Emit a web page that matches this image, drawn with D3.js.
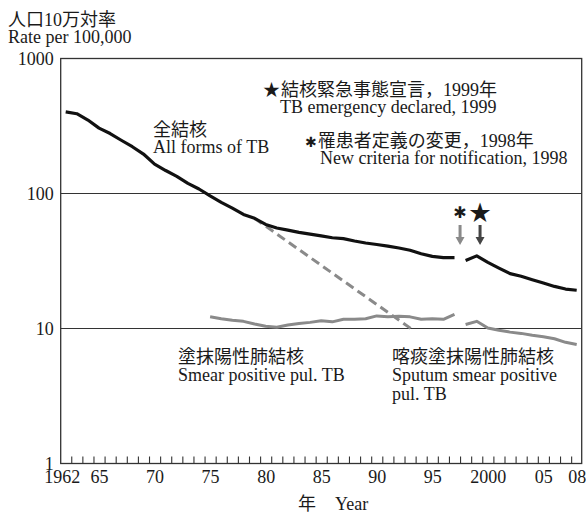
<!DOCTYPE html>
<html>
<head>
<meta charset="utf-8">
<script src="https://cdn.jsdelivr.net/npm/d3@7"></script>
<style>
body { margin: 0; background: #fff; }
text { font-family: "Liberation Serif", "Noto Sans CJK JP", serif; fill: #1a1a1a; }
.ast { font-family: "DejaVu Sans", sans-serif; }
.star { font-family: "Noto Sans CJK JP", sans-serif; }
</style>
</head>
<body>
<svg></svg>
<script>
var WIDTH = 586;
var HEIGHT = 515;

// all forms of TB, before and after the 1998 change of criteria
var allYears1 = [1962, 1963, 1964, 1965, 1966, 1967, 1968, 1969, 1970, 1971, 1972, 1973,
    1974, 1975, 1976, 1977, 1978, 1979, 1980, 1981, 1982, 1983, 1984, 1985, 1986, 1987,
    1988, 1989, 1990, 1991, 1992, 1993, 1994, 1995, 1996, 1997];
var allRate1 = [402, 390, 350, 305, 278, 248, 222, 196, 165, 148, 134, 119,
    108, 96, 86, 78, 70, 65.5, 59, 55.5, 53.5, 51.5, 50, 48.5, 47, 46.3,
    44.5, 43, 41.9, 40.8, 39.5, 38, 35.8, 34.2, 33.5, 33.5];
var allYears2 = [1998, 1999, 2000, 2001, 2002, 2003, 2004, 2005, 2006, 2007, 2008];
var allRate2 = [31.9, 34.5, 30.9, 28, 25.5, 24.4, 23, 21.7, 20.5, 19.6, 19.2];

// smear positive pulmonary TB, then sputum smear positive
var smearYears = [1975, 1976, 1977, 1978, 1979, 1980, 1981, 1982, 1983, 1984, 1985, 1986,
    1987, 1988, 1989, 1990, 1991, 1992, 1993, 1994, 1995, 1996, 1997];
var smearRate = [12.2, 11.8, 11.5, 11.3, 10.8, 10.4, 10.2, 10.6, 10.9, 11.1, 11.4, 11.2,
    11.7, 11.7, 11.8, 12.4, 12.2, 12.3, 12.2, 11.7, 11.8, 11.7, 12.7];
var sputumYears = [1998, 1999, 2000, 2001, 2002, 2003, 2004, 2005, 2006, 2007, 2008];
var sputumRate = [10.7, 11.3, 10.1, 9.7, 9.4, 9.2, 8.9, 8.7, 8.4, 7.9, 7.6];

// dashed trend line
var trendYears = [1979, 1993.3];
var trendRate = [65.5, 9.7];

var xTickYears = [1962, 1965, 1970, 1975, 1980, 1985, 1990, 1995, 2000, 2005, 2008];
var xTickLabels = ["1962", "65", "70", "75", "80", "85", "90", "95", "2000", "05", "08"];
var yTicks = [1, 10, 100, 1000];

function pairs(xs, ys) {
    return xs.map(function(d, i) { return [d, ys[i]]; });
}

function main() {
    var svg = d3.select("svg")
        .attr("width", WIDTH)
        .attr("height", HEIGHT);

    var x = d3.scaleLinear().domain([1962, 2008]).range([65.7, 576.7]);
    var y = d3.scaleLog().domain([1, 1000]).range([463.5, 58.5]);

    var left = x.range()[0] - 5, right = x.range()[1] + 5;

    // grid lines at 10 and 100
    svg.selectAll("line.grid")
        .data([10, 100])
        .enter()
        .append("line")
        .attr("class", "grid")
        .attr("x1", left)
        .attr("x2", right)
        .attr("y1", function(d) { return y(d); })
        .attr("y2", function(d) { return y(d); })
        .attr("stroke", "#333")
        .attr("stroke-width", 1.1);

    // frame
    svg.append("rect")
        .attr("x", left)
        .attr("y", y(1000))
        .attr("width", right - left)
        .attr("height", y(1) - y(1000))
        .attr("fill", "none")
        .attr("stroke", "#333")
        .attr("stroke-width", 1.3);

    // year ticks (between years)
    var minor = svg.append("g")
        .attr("transform", "translate(0," + y(1) + ")")
        .call(d3.axisBottom(x)
            .tickValues(d3.range(1962.5, 2008, 1))
            .tickSize(-7)
            .tickFormat(""));
    minor.select(".domain").remove();
    minor.selectAll("line").attr("stroke", "#333").attr("stroke-width", 1.1);

    var xAxis = svg.append("g")
        .attr("transform", "translate(0," + y(1) + ")")
        .call(d3.axisBottom(x)
            .tickValues(xTickYears)
            .tickSize(0)
            .tickPadding(7)
            .tickFormat(function(d, i) { return xTickLabels[i]; }));
    xAxis.select(".domain").remove();
    xAxis.attr("font-family", null).attr("font-size", 18);
    xAxis.selectAll(".tick text")
        .filter(function(d) { return d === 1962; })
        .attr("dx", -4);

    var yAxis = svg.append("g")
        .attr("transform", "translate(" + left + ",0)")
        .call(d3.axisLeft(y)
            .tickValues(yTicks)
            .tickSize(0)
            .tickPadding(7)
            .tickFormat(d3.format("d")));
    yAxis.select(".domain").remove();
    yAxis.attr("font-family", null).attr("font-size", 18);

    var line = d3.line()
        .x(function(d) { return x(d[0]); })
        .y(function(d) { return y(d[1]); });

    svg.append("path")
        .datum(pairs(trendYears, trendRate))
        .attr("d", line)
        .attr("fill", "none")
        .attr("stroke", "#8a8a8a")
        .attr("stroke-width", 3)
        .attr("stroke-dasharray", "9,5");

    [[smearYears, smearRate], [sputumYears, sputumRate]].forEach(function(s) {
        svg.append("path")
            .datum(pairs(s[0], s[1]))
            .attr("d", line)
            .attr("fill", "none")
            .attr("stroke", "#8a8a8a")
            .attr("stroke-width", 3)
            .attr("stroke-linejoin", "round");
    });

    [[allYears1, allRate1], [allYears2, allRate2]].forEach(function(s) {
        svg.append("path")
            .datum(pairs(s[0], s[1]))
            .attr("d", line)
            .attr("fill", "none")
            .attr("stroke", "#111")
            .attr("stroke-width", 3.2)
            .attr("stroke-linejoin", "round");
    });

    // event arrows
    var events = [
        { year: 1997.5, sym: "✱", cls: "ast", color: "#8a8a8a", size: 16, ty: 218 },
        { year: 1999.3, sym: "★", cls: "star", color: "#444", size: 22, ty: 220 }
    ];
    events.forEach(function(e) {
        var cx = x(e.year);
        svg.append("path")
            .attr("d", "M" + (cx - 1.5) + ",225V237H" + (cx - 4.5) + "L" + cx + ",245L" +
                (cx + 4.5) + ",237H" + (cx + 1.5) + "V225Z")
            .attr("fill", e.color);
        svg.append("text")
            .attr("class", e.cls)
            .attr("x", cx)
            .attr("y", e.ty)
            .attr("text-anchor", "middle")
            .attr("font-size", e.size)
            .text(e.sym);
    });

    // texts
    function label(tx, ty, str, sym, cls, size) {
        var t = svg.append("text")
            .attr("x", tx)
            .attr("y", ty)
            .attr("font-size", 18);
        if (sym) {
            t.append("tspan").attr("class", cls).attr("font-size", size).text(sym);
            t.append("tspan").attr("dx", 1).text(str);
        } else {
            t.text(str);
        }
    }
    label(8, 26, "人口10万対率");
    label(8, 43, "Rate per 100,000");

    label(263, 96, "結核緊急事態宣言，1999年", "★", "star", 17);
    label(280, 113, "TB emergency declared, 1999");
    label(305, 147, "罹患者定義の変更，1998年", "✱", "ast", 14);
    label(320, 164, "New criteria for notification, 1998");

    label(153, 136, "全結核");
    label(153, 153, "All forms of TB");

    label(178, 363, "塗抹陽性肺結核");
    label(178, 381, "Smear positive pul. TB");
    label(392, 363, "喀痰塗抹陽性肺結核");
    label(392, 381, "Sputum smear positive");
    label(392, 400, "pul. TB");

    label(298, 510, "年");
    label(335, 510, "Year");
}

main();
</script>
</body>
</html>
